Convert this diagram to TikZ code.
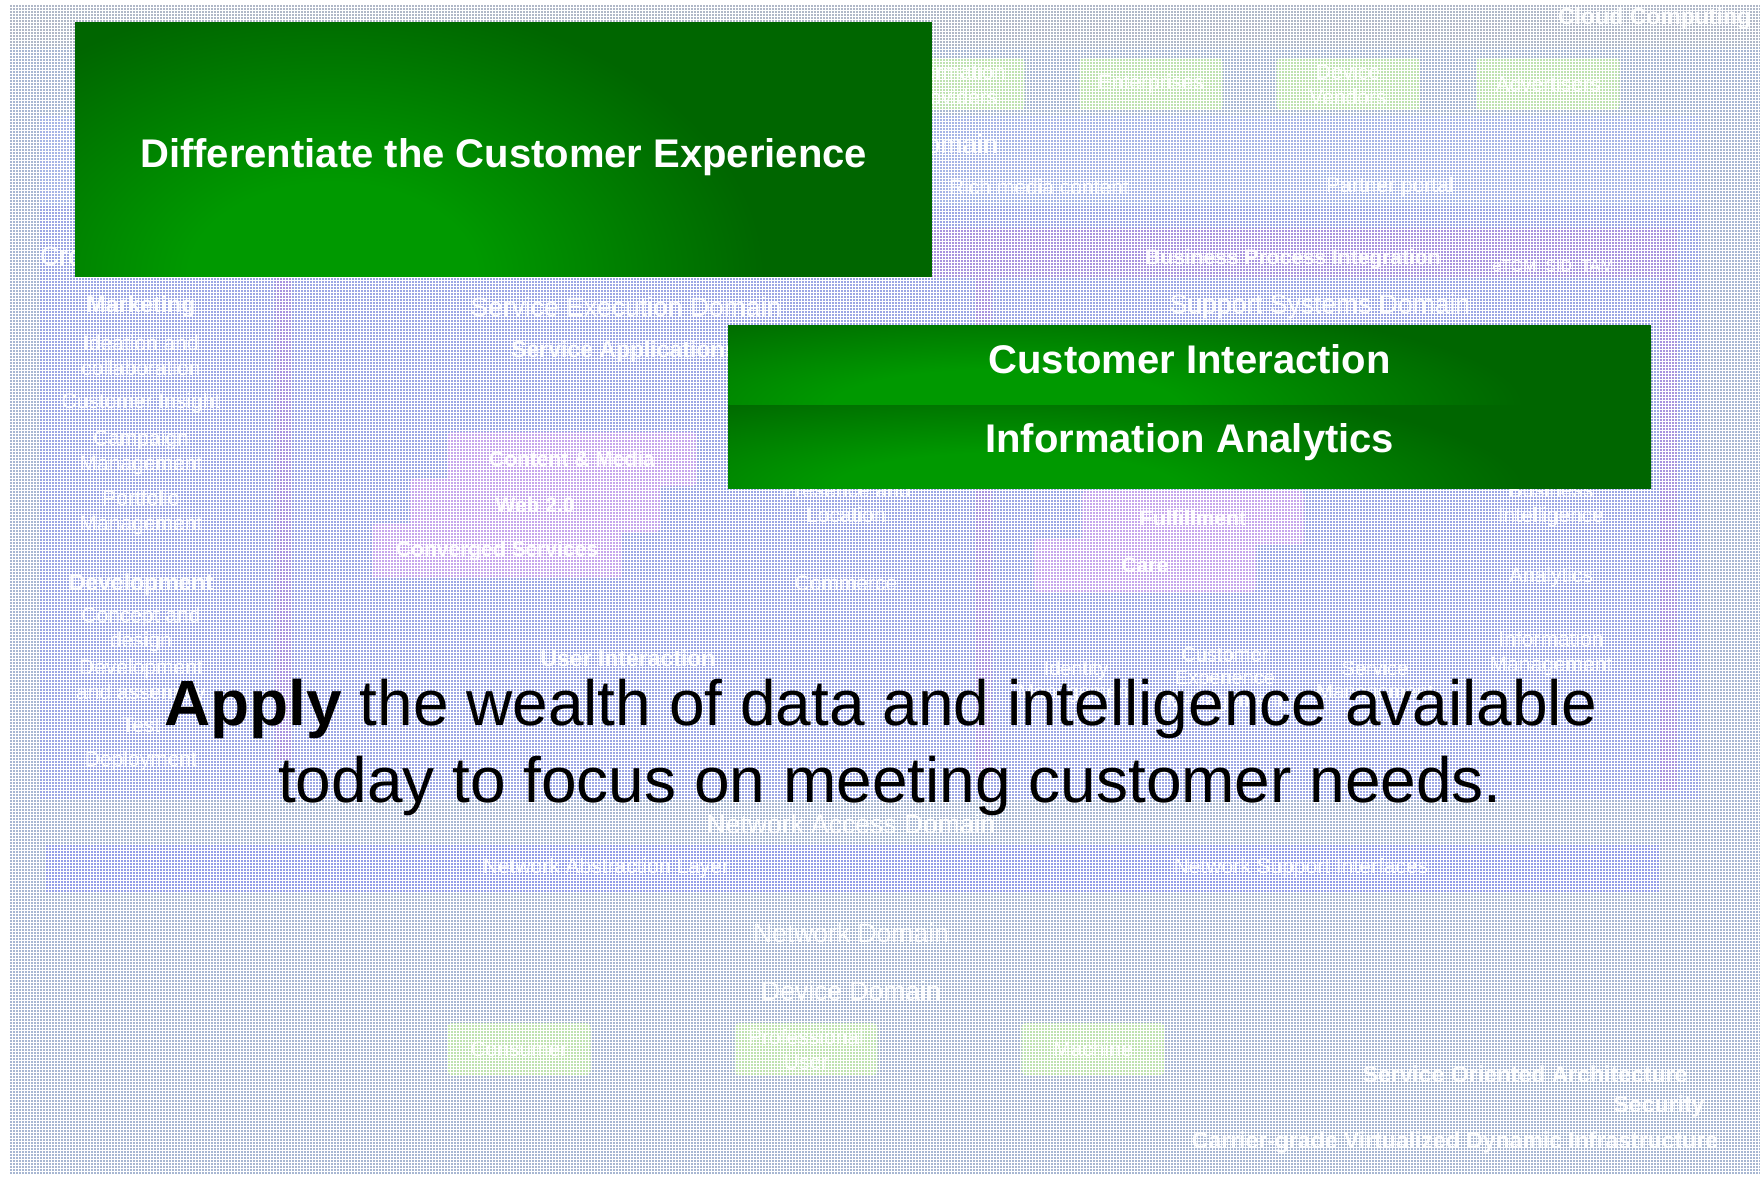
\documentclass[tikz,border=0pt]{standalone}
\usepackage{fontspec}
\setmainfont{Liberation Sans}
\usetikzlibrary{positioning,patterns,calc}

\definecolor{pbright}{RGB}{0,153,0}
\definecolor{pdark}{RGB}{0,102,0}
\definecolor{bgbase}{RGB}{168,183,210}
\definecolor{bgtop}{RGB}{176,184,200}
\definecolor{bglight}{RGB}{166,181,230}
\definecolor{bgblue}{RGB}{156,166,228}
\definecolor{bgnet}{RGB}{148,158,232}
\definecolor{stripe}{RGB}{168,148,222}
\definecolor{stackfill}{RGB}{198,166,236}
\definecolor{rolefill}{RGB}{190,226,176}
\pgfdeclareradialshading{glow}{\pgfpoint{0bp}{0bp}}{color(0bp)=(pbright); color(6bp)=(pbright); color(18bp)=(pdark); color(50bp)=(pdark)}

\begin{document}
\begin{tikzpicture}[x=1pt,y=-1pt,
	every node/.style={inner sep=0pt},
	fade/.style={text=white,text opacity=.92,align=center,font=\fontsize{21}{25}\selectfont},
	fadebold/.style={fade,font=\bfseries\fontsize{23}{27}\selectfont},
	domaintext/.style={fade,font=\fontsize{26.5}{30}\selectfont},
	stackbox/.style={fadebold,font=\bfseries\fontsize{21}{25}\selectfont,fill=stackfill,rounded corners=4pt,minimum width=250pt,minimum height=54pt},
	rolebox/.style={fade,fill=rolefill,rounded corners=4pt,minimum width=143pt,minimum height=52pt},
	panel/.style 2 args={fill=pdark,text=white,font=\bfseries\fontsize{40}{48}\selectfont,
		path picture={\shade[shading=glow] ($(path picture bounding box.south west)!.3!(path picture bounding box.south east)$) ellipse (#1 and #2);}},
	applyline/.style={anchor=base,font=\fontsize{64}{77}\selectfont}]

\useasboundingbox (0,0) rectangle (1760,1177);
\fill[white] (0,0) rectangle (1760,1177);
\fill[bgbase] (9,4) rectangle (1760,1175);
\fill[bgtop] (9,4) rectangle (1760,48);
\fill[bglight] (40,115) rectangle (1700,205);
\fill[bgblue] (40,205) rectangle (1700,800);
\fill[stripe] (880,228) rectangle (1677,277);
\foreach \x/\y in {275/760,975/780,1660/790}
	\fill[stripe] (\x,277) rectangle ({\x+17},\y);
\fill[bgnet] (45,845) rectangle (1660,893);

% top row
\node[fadebold,anchor=west] (cloud) at (1558,19) {Cloud Computing};
\foreach \n/\x/\t in {infoprov/953/{Information\\Providers},enterp/1151/{Enterprises},devvend/1348/{Device\\Vendors},advert/1548/{Advertisers}}
	\node[rolebox] (\n) at (\x,84) {\t};
\node[domaintext,anchor=east] (deliv) at (998,144) {Domain};
\node[fade] (richmedia) at (1039,187) {Rich media content};
\node[fade] (partner) at (1390,187) {Partner portal};
\node[fadebold,font=\bfseries\fontsize{21}{25}\selectfont] (bpi) at (1293,259) {Business Process Integration};
\node[fade,font=\fontsize{16}{19}\selectfont] (etom) at (1553,266) {eTOM~ SID~ TAM};
\node[domaintext,anchor=west] (cross) at (40,256) {Cross};

% left column
\node[fadebold] (market) at (141,307) {Marketing};
\node[fadebold] (devel) at (141,585) {Development};
\foreach \n/\y/\t in {ideation/355/{Ideation and\\collaboration},insight/403/{Customer Insight},campaign/453/{Campaign\\Management},portfolio/513/{Portfolio\\Management},concept/630/{Concept and\\design},assembly/682/{Development\\and assembly},test/725/{Test},deploy/761/{Deployment}}
	\node[fade] (\n) at (141,\y) {\t};

% service execution
\node[domaintext] (sedomain) at (626,307) {Service Execution Domain};
\node[fadebold,anchor=west] (svcapp) at (511,352) {Service Applications};
\node[stackbox] (content) at (572,459) {Content \& Media};
\node[stackbox] (web) at (535,505) {Web 2.0};
\node[stackbox] (converged) at (497,551) {Converged Services};
\node[fade] (presence) at (846,502) {Presence and\\Location};
\node[fade] (commerce) at (846,583) {Commerce};
\node[fadebold] (userint) at (628,658) {User Interaction};

% support systems
\node[domaintext] (ssdomain) at (1320,307) {Support Systems Domain};
\node[stackbox,minimum width=222pt] (fulfil) at (1193,518) {Fulfillment};
\node[stackbox,minimum width=222pt] (care) at (1145,565) {Care};
\foreach \n/\y/\t in {bizint/505/{Business\\Intelligence},analytics/577/{Analytics},infomgmt/654/{Information\\Management}}
	\node[fade] (\n) at (1551,\y) {\t};
\node[fade,font=\fontsize{20}{23}\selectfont] (identity) at (1076,682) {Identity\\Management};
\node[fade,font=\fontsize{20}{23}\selectfont] (custexp) at (1225,680) {Customer\\Experience\\Management};
\node[fade,font=\fontsize{20}{23}\selectfont] (svcmgmt) at (1375,682) {Service\\Management};

% network and devices
\node[domaintext] (nadomain) at (851,824) {Network Access Domain};
\node[fade] (nal) at (606,868) {Network Abstraction Layer};
\node[fade] (nsi) at (1301,868) {Network Support Interfaces};
\node[domaintext] (netdomain) at (851,933) {Network Domain};
\node[domaintext] (devdomain) at (851,991) {Device Domain};
\foreach \n/\x/\t in {consumer/519/{Consumer},prouser/806/{Professional\\User},machine/1093/{Machine}}
	\node[rolebox] (\n) at (\x,1049) {\t};
\node[fadebold] (soa) at (1525,1074) {Service Oriented Architecture};
\node[fadebold] (security) at (1659,1107) {Security};
\node[fadebold] (carrier) at (1455,1143) {Carrier-grade Virtualized Dynamic Infrastructure};

\fill[pattern=grid,pattern color=white] (9,4) rectangle (1760,1175);

% overlay
\node[panel={600}{390},minimum width=857pt,minimum height=254pt,text height=44pt,text depth=8pt,anchor=north west] (diff) at (75,22) {Differentiate the Customer Experience};
\node[panel={720}{150},minimum width=923pt,minimum height=80pt,text height=28pt,text depth=12pt,anchor=north west] (custint) at (728,325) {Customer Interaction};
\node[panel={720}{150},minimum width=923pt,minimum height=83pt,text height=28pt,text depth=17pt,below=0pt of custint] (infoana) {Information Analytics};

\node[applyline] (apply1) at (881,725) {\textbf{Apply} the wealth of data and intelligence available};
\node[applyline] (apply2) at (890,802) {today to focus on meeting customer needs.};
\end{tikzpicture}
\end{document}
